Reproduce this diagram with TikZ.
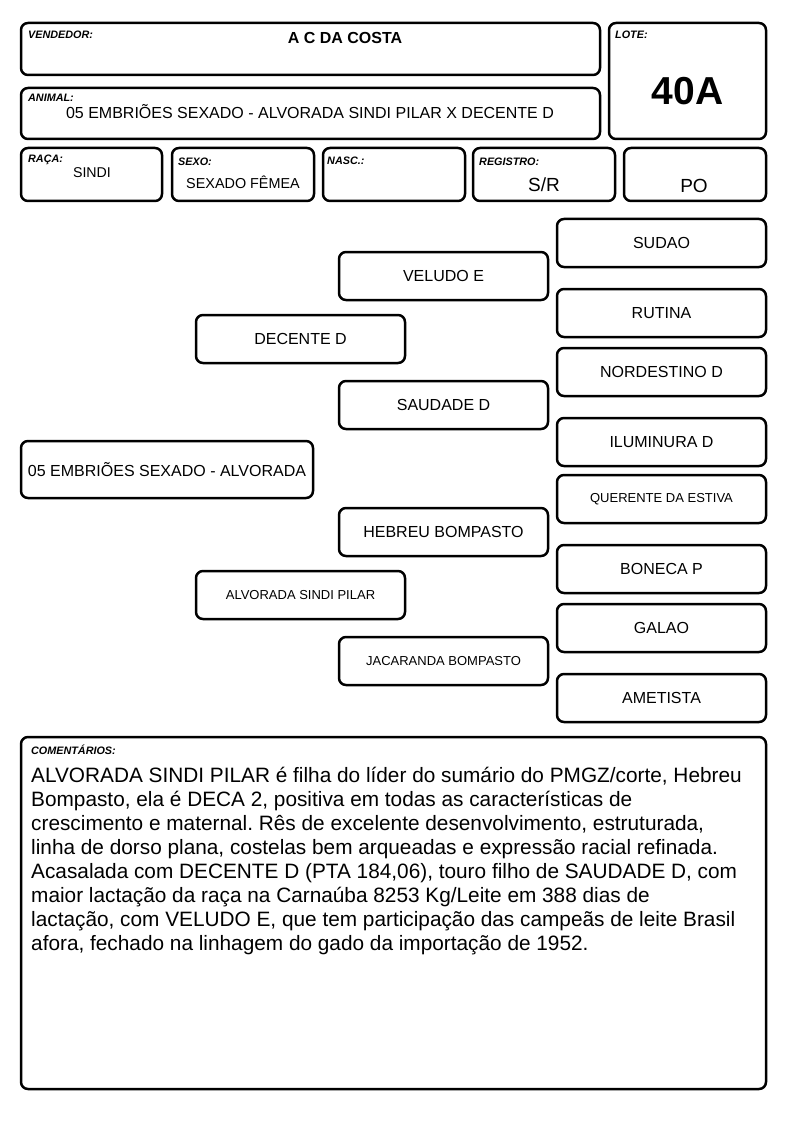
\documentclass[tikz,border=0pt]{standalone}
\usepackage{fontspec}
\setmainfont{Liberation Sans}
\usetikzlibrary{positioning}
\frenchspacing

\tikzset{
  box/.style={rectangle, draw, line width=2.5pt, rounded corners=7pt, inner sep=0pt, font=\fontsize{16}{19}\selectfont},
  pedbox/.style={box, minimum width=209pt, minimum height=48pt},
  lbl/.style={anchor=base west, inner sep=0pt, font=\fontsize{10.8}{12}\selectfont\bfseries\itshape},
  val/.style={anchor=base, inner sep=0pt, font=\fontsize{16}{19}\selectfont},
  smalltxt/.style={font=\fontsize{13}{15}\selectfont},
}

\begin{document}
\begin{tikzpicture}[x=1pt, y=-1pt]
    \useasboundingbox (0,0) rectangle (794,1123);

    % cabecalho
    \node (vendedor) [box, minimum width=579pt, minimum height=52pt] at (310.5,49) {};
    \node (lote) [box, minimum width=157pt, minimum height=116pt] at (687.5,81) {};
    \node (animal) [box, minimum width=579pt, minimum height=51pt] at (310.5,113.5) {};
    \node (raca) [box, minimum width=141pt, minimum height=53pt] at (91.5,174.5) {};
    \node (sexo) [box, minimum width=142pt, minimum height=53pt] at (243,174.5) {};
    \node (nasc) [box, minimum width=142pt, minimum height=53pt] at (394,174.5) {};
    \node (registro) [box, minimum width=142pt, minimum height=53pt] at (544,174.5) {};
    \node (categoria) [box, minimum width=142pt, minimum height=53pt] at (695,174.5) {};

    \node (vendedorlbl) [lbl] at (28,39) {VENDEDOR:};
    \node (lotelbl) [lbl] at (615,39) {LOTE:};
    \node (animallbl) [lbl] at (28,102) {ANIMAL:};
    \node (racalbl) [lbl] at (28,163) {RAÇA:};
    \node (sexolbl) [lbl] at (178,166) {SEXO:};
    \node (nasclbl) [lbl] at (327,165) {NASC.:};
    \node (registrolbl) [lbl] at (479,166) {REGISTRO:};

    \node (vendedorval) [val, font=\fontsize{16}{19}\selectfont\bfseries] at (345,44) {A C DA COSTA};
    \node (loteval) [val, font=\fontsize{39}{44}\selectfont\bfseries] at (687.5,105) {40A};
    \node (animalval) [val] at (310,119) {05 EMBRIÕES SEXADO - ALVORADA SINDI PILAR X DECENTE D};
    \node (racaval) [val, font=\fontsize{14.2}{17}\selectfont] at (92,177.5) {SINDI};
    \node (sexoval) [val, font=\fontsize{14.4}{17}\selectfont] at (243,189) {SEXADO FÊMEA};
    \node (registroval) [val, font=\fontsize{19}{22}\selectfont] at (544,192) {S/R};
    \node (categoriaval) [val, font=\fontsize{19}{22}\selectfont] at (694,193) {PO};

    % genealogia
    \node (animalped) [box, minimum width=292pt, minimum height=57pt] at (167,469.5) {05 EMBRIÕES SEXADO - ALVORADA};

    \node (pai) [pedbox] at (300.5,339) {DECENTE D};
    \node (mae) [pedbox, smalltxt] at (300.5,595) {ALVORADA SINDI PILAR};

    \node (avopp) [pedbox] at (443.5,276) {VELUDO E};
    \node (avopm) [pedbox] at (443.5,405) {SAUDADE D};
    \node (avomp) [pedbox] at (443.5,532) {HEBREU BOMPASTO};
    \node (avomm) [pedbox, smalltxt] at (443.5,661) {JACARANDA BOMPASTO};

    \node (bisppp) [pedbox] at (661.5,243) {SUDAO};
    \node (bisppm) [pedbox] at (661.5,313) {RUTINA};
    \node (bispmp) [pedbox] at (661.5,372) {NORDESTINO D};
    \node (bispmm) [pedbox] at (661.5,442) {ILUMINURA D};
    \node (bismpp) [pedbox, smalltxt] at (661.5,499) {QUERENTE DA ESTIVA};
    \node (bismpm) [pedbox] at (661.5,569) {BONECA P};
    \node (bismmp) [pedbox] at (661.5,628) {GALAO};
    \node (bismmm) [pedbox] at (661.5,698) {AMETISTA};

    % comentarios
    \node (comentarios) [box, minimum width=745pt, minimum height=352pt] at (393.5,913) {};
    \node (comentarioslbl) [lbl] at (31,754) {COMENTÁRIOS:};
    \node (comentariostxt) [anchor=north west, inner sep=0pt, align=left, font=\fontsize{20.8}{24}\selectfont] at (31,767)
        {ALVORADA SINDI PILAR é filha do líder do sumário do PMGZ/corte, Hebreu\\
         Bompasto, ela é DECA 2, positiva em todas as características de\\
         crescimento e maternal. Rês de excelente desenvolvimento, estruturada,\\
         linha de dorso plana, costelas bem arqueadas e expressão racial refinada.\\
         Acasalada com DECENTE D (PTA 184,06), touro filho de SAUDADE D, com\\
         maior lactação da raça na Carnaúba 8253 Kg/Leite em 388 dias de\\
         lactação, com VELUDO E, que tem participação das campeãs de leite Brasil\\
         afora, fechado na linhagem do gado da importação de 1952.};
\end{tikzpicture}
\end{document}
